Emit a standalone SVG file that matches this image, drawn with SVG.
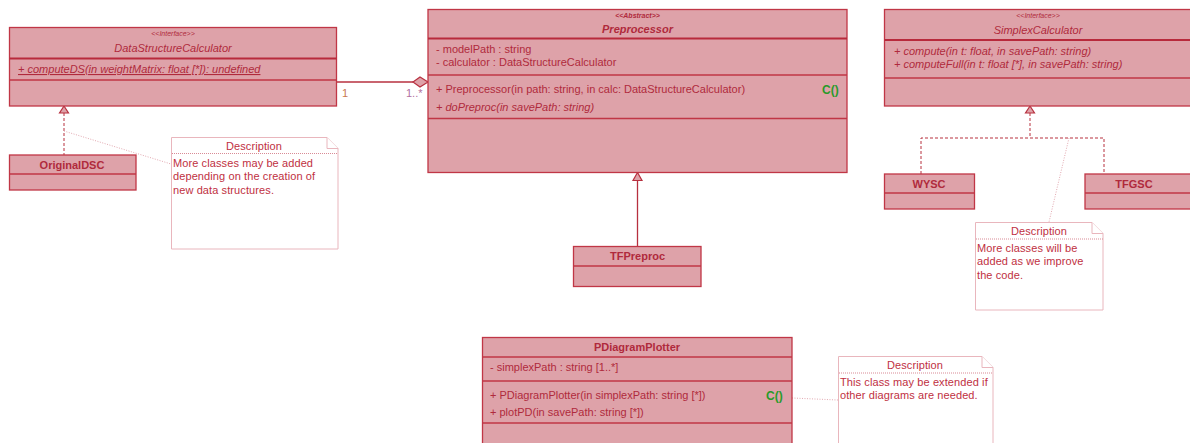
<svg xmlns="http://www.w3.org/2000/svg" width="1190" height="443" viewBox="0 0 1190 443">
<style>
.cls{fill:#dea2a9;stroke:#c03646;stroke-width:1.3}
.div{stroke:#c03646;stroke-width:1.3}
.hdiv{stroke:#b82a3c;stroke-width:2}
text{font-family:"Liberation Sans",Arial,sans-serif;font-size:11px;fill:#b02a3c}
.st{font-size:7px;font-style:italic}
.stb{font-size:7px;font-style:italic;font-weight:bold}
.it{font-style:italic}
.b{font-weight:bold}
.mid{text-anchor:middle}
.c{fill:#2a9a2a;font-weight:bold;font-size:12px}
.note{fill:#ffffff;stroke:#e9b6bd;stroke-width:1}
.ndiv{stroke:#d98a95;stroke-width:1;stroke-dasharray:1 1}
.nt{fill:#c0303f;letter-spacing:0.1px}
.link{fill:none;stroke:#e3a9b1;stroke-width:1;stroke-dasharray:1 1.5}
.real{fill:none;stroke:#b7303f;stroke-width:1;stroke-dasharray:3 2}
.solid{fill:none;stroke:#b7303f;stroke-width:1.3}
.tri{fill:#dea2a9;stroke:#b7303f;stroke-width:1.2}
</style>
<g id="connectors">
  <line class="solid" x1="337" y1="82" x2="413" y2="82"/>
  <polygon class="tri" points="413,82 420,77 428,82 420,87"/>
  <text x="342" y="97" style="fill:#c87850">1</text>
  <text x="406" y="97" style="fill:#b070a0">1..*</text>
  <line class="real" x1="64" y1="113" x2="64" y2="155"/>
  <polygon class="tri" points="64,106 59.5,113 68.5,113"/>
  <line class="solid" x1="637.5" y1="180" x2="637.5" y2="246"/>
  <polygon class="tri" points="637.5,172.5 633,180.5 642,180.5"/>
  <polyline class="real" points="1030,113 1030,138"/>
  <polyline class="real" points="921,174 921,138 1104,138 1104,174"/>
  <polygon class="tri" points="1030,106 1025.5,113 1034.5,113"/>
  <line class="link" x1="64" y1="131" x2="171" y2="164"/>
  <line class="link" x1="1069" y1="138" x2="1049" y2="222"/>
  <line class="link" x1="792" y1="398" x2="838" y2="400"/>
</g>
<g id="DataStructureCalculator">
  <rect class="cls" x="9.5" y="27.5" width="327" height="78.5"/>
  <line class="hdiv" x1="9.5" y1="58.5" x2="336.5" y2="58.5"/>
  <line class="div" x1="9.5" y1="80" x2="336.5" y2="80"/>
  <text class="st mid" x="173" y="36">&lt;&lt;Interface&gt;&gt;</text>
  <text class="it mid" x="173" y="52">DataStructureCalculator</text>
  <text class="it" x="18" y="73" text-decoration="underline">+ computeDS(in weightMatrix: float [*]): undefined</text>
</g>
<g id="Preprocessor">
  <rect class="cls" x="428" y="9.5" width="419" height="163"/>
  <line class="hdiv" x1="428" y1="38.5" x2="847" y2="38.5"/>
  <line class="div" x1="428" y1="75" x2="847" y2="75"/>
  <line class="div" x1="428" y1="118.5" x2="847" y2="118.5"/>
  <text class="stb mid" x="637.5" y="18">&lt;&lt;Abstract&gt;&gt;</text>
  <text class="it b mid" x="637.5" y="33">Preprocessor</text>
  <text x="436" y="53">- modelPath : string</text>
  <text x="436" y="66">- calculator : DataStructureCalculator</text>
  <text x="436" y="93">+ Preprocessor(in path: string, in calc: DataStructureCalculator)</text>
  <text class="it" x="436" y="111">+ doPreproc(in savePath: string)</text>
  <text class="c" x="822" y="94">C()</text>
</g>
<g id="SimplexCalculator">
  <rect class="cls" x="884.5" y="9.5" width="310" height="96.5"/>
  <line class="hdiv" x1="884.5" y1="40" x2="1194" y2="40"/>
  <line class="div" x1="884.5" y1="78" x2="1194" y2="78"/>
  <text class="st mid" x="1038" y="18">&lt;&lt;Interface&gt;&gt;</text>
  <text class="it mid" x="1038" y="34">SimplexCalculator</text>
  <text class="it" x="894" y="55">+ compute(in t: float, in savePath: string)</text>
  <text class="it" x="894" y="68">+ computeFull(in t: float [*], in savePath: string)</text>
</g>
<g id="OriginalDSC">
  <rect class="cls" x="9.5" y="155" width="126.5" height="35"/>
  <line class="div" x1="9.5" y1="174" x2="136" y2="174"/>
  <text class="b mid" x="72" y="169">OriginalDSC</text>
</g>
<g id="TFPreproc">
  <rect class="cls" x="573.5" y="246.5" width="127.5" height="40"/>
  <line class="div" x1="573.5" y1="266" x2="701" y2="266"/>
  <text class="b mid" x="637.5" y="260">TFPreproc</text>
</g>
<g id="WYSC">
  <rect class="cls" x="884.5" y="174" width="90" height="35"/>
  <line class="div" x1="884.5" y1="193" x2="974.5" y2="193"/>
  <text class="b mid" x="929" y="188">WYSC</text>
</g>
<g id="TFGSC">
  <rect class="cls" x="1085" y="174" width="110" height="35"/>
  <line class="div" x1="1085" y1="193" x2="1195" y2="193"/>
  <text class="b mid" x="1134" y="188">TFGSC</text>
</g>
<g id="PDiagramPlotter">
  <rect class="cls" x="482.5" y="337.5" width="309.5" height="110"/>
  <line class="div" x1="482.5" y1="357" x2="792" y2="357"/>
  <line class="div" x1="482.5" y1="381" x2="792" y2="381"/>
  <line class="div" x1="482.5" y1="423" x2="792" y2="423"/>
  <text class="b mid" x="637" y="351">PDiagramPlotter</text>
  <text x="490" y="371">- simplexPath : string [1..*]</text>
  <text x="490" y="399">+ PDiagramPlotter(in simplexPath: string [*])</text>
  <text x="490" y="416">+ plotPD(in savePath: string [*])</text>
  <text class="c" x="766" y="400">C()</text>
</g>
<g id="note1">
  <path class="note" d="M171.5,137.5 H327 L338,148.5 V249 H171.5 Z"/>
  <path class="note" d="M327,137.5 V148.5 H338"/>
  <line class="ndiv" x1="172" y1="153.5" x2="338" y2="153.5"/>
  <text class="nt mid" x="254" y="150">Description</text>
  <text class="nt" x="173" y="167">More classes may be added</text>
  <text class="nt" x="173" y="180">depending on the creation of</text>
  <text class="nt" x="173" y="194">new data structures.</text>
</g>
<g id="note2">
  <path class="note" d="M975.5,222.5 H1092 L1103,233.5 V310 H975.5 Z"/>
  <path class="note" d="M1092,222.5 V233.5 H1103"/>
  <line class="ndiv" x1="976" y1="239" x2="1103" y2="239"/>
  <text class="nt mid" x="1039" y="235">Description</text>
  <text class="nt" x="977" y="252">More classes will be</text>
  <text class="nt" x="977" y="265">added as we improve</text>
  <text class="nt" x="977" y="279">the code.</text>
</g>
<g id="note3">
  <path class="note" d="M838.5,356.5 H982 L993,367.5 V450 H838.5 Z"/>
  <path class="note" d="M982,356.5 V367.5 H993"/>
  <line class="ndiv" x1="839" y1="373" x2="993" y2="373"/>
  <text class="nt mid" x="915" y="369">Description</text>
  <text class="nt" x="840" y="386">This class may be extended if</text>
  <text class="nt" x="840" y="399">other diagrams are needed.</text>
</g>
</svg>
